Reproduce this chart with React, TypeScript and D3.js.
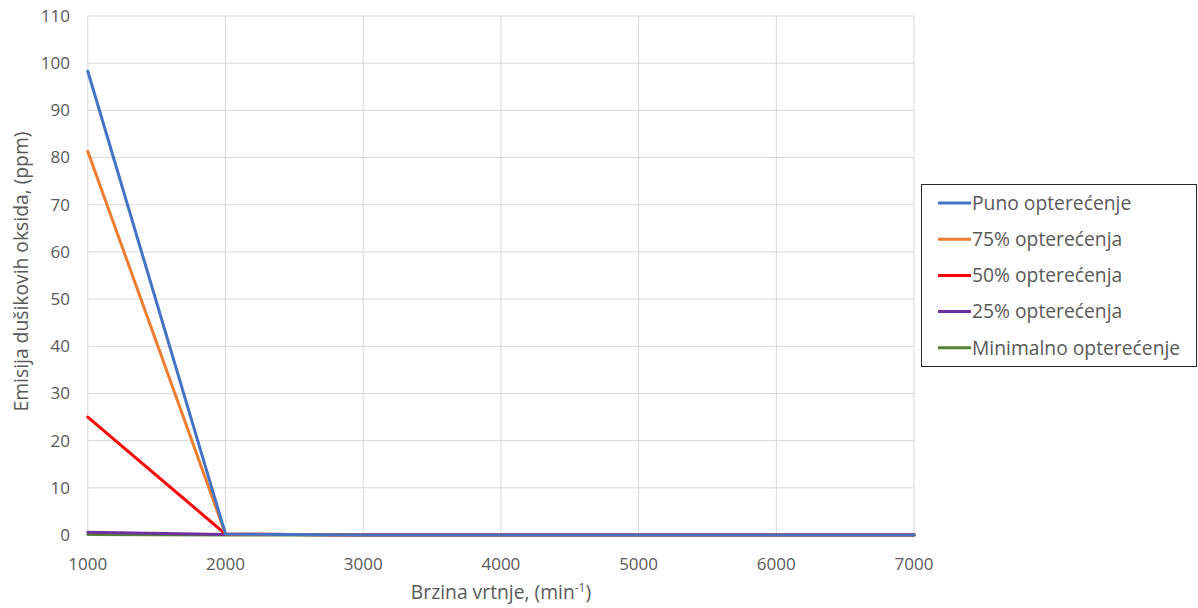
import React from "react";
import * as d3 from "d3";

const speeds = [1000, 2000, 3000, 4000, 5000, 6000, 7000];
const puno = [98.3, 0.2, 0, 0, 0, 0, 0];
const p75 = [81.3, 0.2, 0, 0, 0, 0, 0];
const p50 = [25.0, 0.2, 0, 0, 0, 0, 0];
const p25 = [0.6, 0.1, 0.1, 0.1, 0.1, 0.1, 0.1];
const minimal = [0.1, 0, 0, 0, 0, 0, 0];
const seriesNames = ["Puno opterećenje", "75% opterećenja", "50% opterećenja", "25% opterećenja", "Minimalno opterećenje"];
const seriesColors = ["#4472C4", "#ED7D31", "#FF0000", "#7030A0", "#548235"];
const yTicks = [0, 10, 20, 30, 40, 50, 60, 70, 80, 90, 100, 110];
const xTicks = [1000, 2000, 3000, 4000, 5000, 6000, 7000];

export default function App() {
  const W = 1198, H = 608;
  const x = d3.scaleLinear().domain([1000, 7000]).range([87.8, 914]);
  const y = d3.scaleLinear().domain([0, 110]).range([535, 16]);
  const allSeries = [puno, p75, p50, p25, minimal];
  const line = d3.line<number>().x((_, i) => x(speeds[i])).y(v => y(v));
  const font = "'Open Sans', sans-serif";
  const textColor = "#595959";
  const tickSize = 17;
  const labelSize = 19.3;
  const drawOrder = [4, 3, 2, 1, 0];
  return (
    <svg width={W} height={H} style={{ position: "absolute", left: 0, top: 0, background: "#fff" }} fontFamily={font}>
      <rect width={W} height={H} fill="#fff" />
      {yTicks.map(t => (
        <line key={"gy" + t} x1={x(1000)} x2={x(7000)} y1={y(t)} y2={y(t)} stroke="#d9d9d9" strokeWidth={1} />
      ))}
      {xTicks.map(t => (
        <line key={"gx" + t} x1={x(t)} x2={x(t)} y1={y(110)} y2={y(0)} stroke="#d9d9d9" strokeWidth={1} />
      ))}
      <line x1={x(1000)} x2={x(7000)} y1={y(0)} y2={y(0)} stroke="#bfbfbf" strokeWidth={1} />
      {yTicks.map(t => (
        <text key={"ty" + t} x={70} y={y(t)} dy="0.35em" textAnchor="end" fontSize={tickSize} fill={textColor}>{t}</text>
      ))}
      {xTicks.map(t => (
        <text key={"tx" + t} x={x(t)} y={570} textAnchor="middle" fontSize={tickSize} fill={textColor}>{t}</text>
      ))}
      {drawOrder.map(i => (
        <path key={"s" + i} d={line(allSeries[i]) || ""} fill="none" stroke={seriesColors[i]} strokeWidth={3} strokeLinejoin="round" strokeLinecap="round" />
      ))}
      <text x={501} y={599} textAnchor="middle" fontSize={labelSize} fill={textColor}>
        Brzina vrtnje, (min<tspan dy={-7} fontSize={12}>-1</tspan><tspan dy={7}>)</tspan>
      </text>
      <text transform={`translate(28, 271.5) rotate(-90)`} textAnchor="middle" fontSize={labelSize} fill={textColor}>
        Emisija dušikovih oksida, (ppm)
      </text>
      <rect x={921.5} y={184.5} width={275} height={182} fill="#fff" stroke="#262626" strokeWidth={1} />
      {seriesNames.map((n, i) => {
        const ly = 203 + i * 36.2;
        return (
          <g key={"l" + i}>
            <line x1={938} x2={971} y1={ly} y2={ly} stroke={seriesColors[i]} strokeWidth={3} />
            <text x={972} y={ly} dy="0.35em" fontSize={labelSize} fill={textColor}>{n}</text>
          </g>
        );
      })}
    </svg>
  );
}
